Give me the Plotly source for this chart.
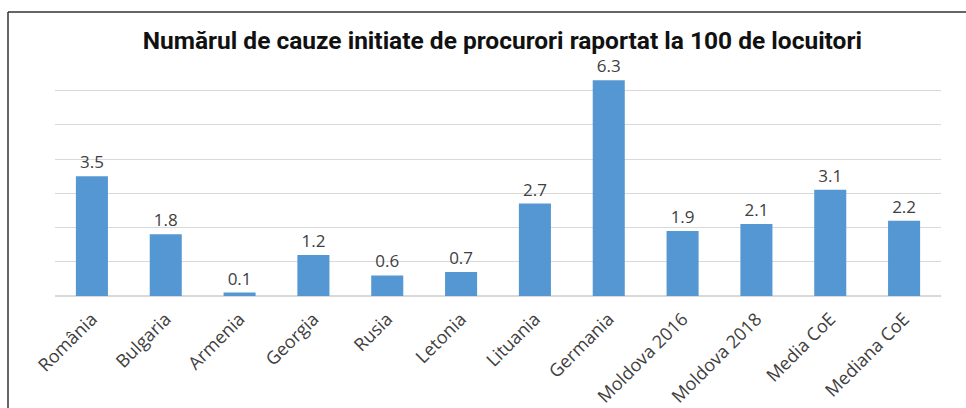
import plotly.graph_objects as go

categories = ["România", "Bulgaria", "Armenia", "Georgia", "Rusia", "Letonia",
              "Lituania", "Germania", "Moldova 2016", "Moldova 2018", "Media CoE", "Mediana CoE"]
values = [3.5, 1.8, 0.1, 1.2, 0.6, 0.7, 2.7, 6.3, 1.9, 2.1, 3.1, 2.2]
labels = [f"{v:.1f}" for v in values]

L, R, T, B = 55, 25, 70, 112
W, H = 966, 408
PW, PH = W - L - R, H - T - B

fig = go.Figure()
fig.add_trace(go.Bar(
    x=categories, y=values, text=labels, textposition="outside",
    textfont=dict(family="Open Sans", size=17, color="#404040"),
    marker=dict(color="#5597d3", line=dict(width=0)),
    cliponaxis=False,
))

fig.update_layout(
    width=W, height=H,
    margin=dict(l=L, r=R, t=T, b=B, autoexpand=False),
    paper_bgcolor="white", plot_bgcolor="white",
    bargap=0.566,
    showlegend=False,
    title=dict(text="<b>Numărul de cauze initiate de procurori raportat la 100 de locuitori</b>",
               x=0.52, xanchor="center", y=0.9, yanchor="middle", yref="container",
               font=dict(family="Roboto", size=24.5, color="#111111")),
    xaxis=dict(tickangle=-45, tickfont=dict(family="Open Sans", size=18, color="#404040"),
               showgrid=False, showline=False, ticks="", automargin=False, ticklabelstandoff=8),
    yaxis=dict(range=[0, 6.6], dtick=1, showticklabels=False, showgrid=True,
               gridcolor="#d9d9d9", gridwidth=1, zeroline=True, zerolinecolor="#d9d9d9",
               zerolinewidth=1.5, showline=False, ticks="", automargin=False),
    shapes=[
        dict(type="line", xref="paper", yref="paper", x0=-(L - 8) / PW, x1=-(L - 8) / PW,
             y0=-2, y1=(H - 12 - B) / PH, line=dict(color="#333333", width=1.5)),
        dict(type="line", xref="paper", yref="paper", x0=-(L - 8) / PW, x1=(W - L) / PW,
             y0=(H - 12 - B) / PH, y1=(H - 12 - B) / PH, line=dict(color="#333333", width=1.5)),
    ],
)

fig.write_html("out.html", config={"displayModeBar": False},
               post_script="document.body.style.margin='0';document.body.style.overflow='hidden';")
